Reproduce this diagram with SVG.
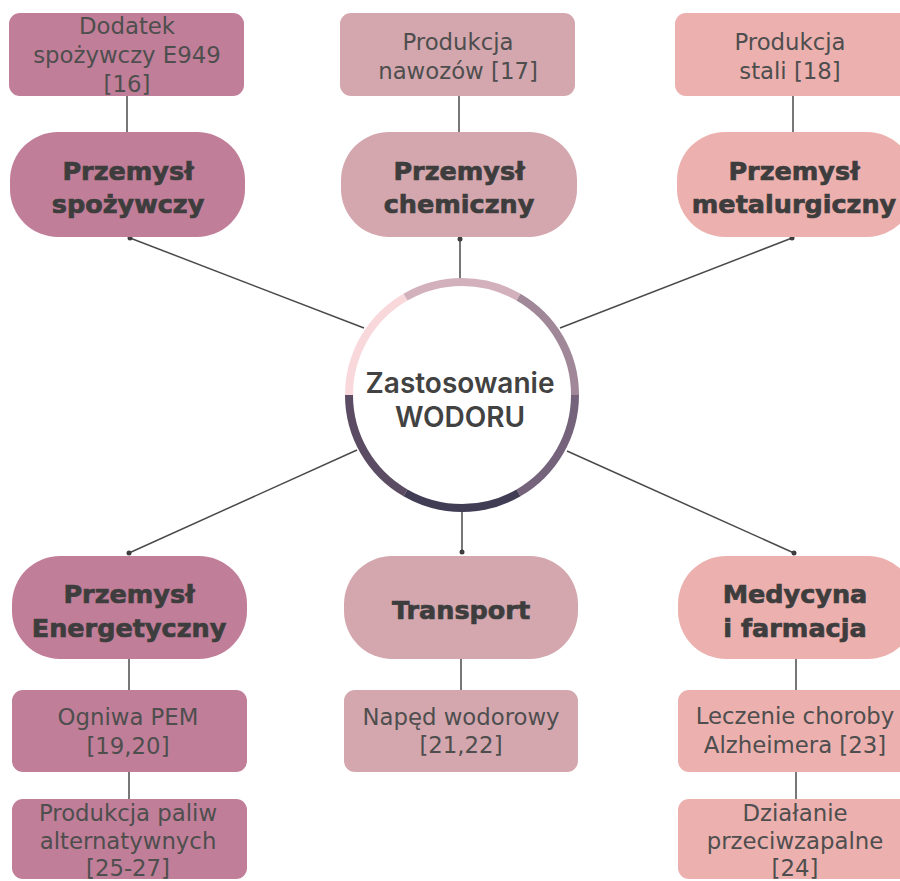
<svg xmlns="http://www.w3.org/2000/svg" width="900" height="881" viewBox="0 0 900 881">
<style>
.c1{fill:#c17e98}
.c2{fill:#d4a7ae}
.c3{fill:#ecb1af}
.t{font-family:"DejaVu Sans","Liberation Sans",sans-serif;font-size:22.8px;fill:#4e4e4e;text-anchor:middle}
.b{font-family:"DejaVu Sans","Liberation Sans",sans-serif;font-weight:bold;font-size:25.5px;fill:#3d3d3d;stroke:#3d3d3d;stroke-width:0.7;text-anchor:middle}
.ct{font-family:Inter,"Liberation Sans",sans-serif;font-weight:600;font-size:28px;fill:#424242;text-anchor:middle}
.ln{stroke:#4a4a4a;stroke-width:1.5;fill:none}
.dot{fill:#3d3d3d}
.ring{fill:none;stroke-width:8}
</style>
<rect width="900" height="881" fill="#ffffff"/>
<g id="connectors">
<line class="ln" x1="127" y1="96" x2="127" y2="132"/>
<line class="ln" x1="459" y1="96" x2="459" y2="132"/>
<line class="ln" x1="793" y1="96" x2="793" y2="132"/>
<line class="ln" x1="129" y1="659" x2="129" y2="690"/>
<line class="ln" x1="129" y1="772" x2="129" y2="799"/>
<line class="ln" x1="461" y1="659" x2="461" y2="690"/>
<line class="ln" x1="796" y1="659" x2="796" y2="690"/>
<line class="ln" x1="796" y1="772" x2="796" y2="799"/>
<line class="ln" x1="130" y1="238" x2="364" y2="328"/>
<line class="ln" x1="460" y1="239" x2="460" y2="279"/>
<line class="ln" x1="792" y1="238" x2="560" y2="328"/>
<line class="ln" x1="129" y1="553" x2="357" y2="450"/>
<line class="ln" x1="462" y1="552" x2="462" y2="512"/>
<line class="ln" x1="794" y1="553" x2="567" y2="451"/>
<circle class="dot" cx="130" cy="238" r="2.5"/>
<circle class="dot" cx="460" cy="239" r="2.5"/>
<circle class="dot" cx="792" cy="238" r="2.5"/>
<circle class="dot" cx="129" cy="553" r="2.5"/>
<circle class="dot" cx="462" cy="552" r="2.5"/>
<circle class="dot" cx="794" cy="553" r="2.5"/>
</g>
<g id="center">
<circle cx="462" cy="395" r="113" fill="#ffffff"/>
<path class="ring" stroke="#74637b" d="M575 395 A113 113 0 0 1 518.5 492.86"/>
<path class="ring" stroke="#403d55" d="M518.5 492.86 A113 113 0 0 1 405.5 492.86"/>
<path class="ring" stroke="#5c4c63" d="M405.5 492.86 A113 113 0 0 1 349 395"/>
<path class="ring" stroke="#f9d8dc" d="M349 395 A113 113 0 0 1 405.5 297.14"/>
<path class="ring" stroke="#d2b1bd" d="M405.5 297.14 A113 113 0 0 1 518.5 297.14"/>
<path class="ring" stroke="#a08898" d="M518.5 297.14 A113 113 0 0 1 575 395"/>
<text class="ct" x="460" y="393">Zastosowanie</text>
<text class="ct" x="460" y="427">WODORU</text>
</g>
<g id="n-e949">
<rect class="c1" x="9" y="13" width="235" height="83" rx="11"/>
<text class="t" x="127" y="34">Dodatek</text>
<text class="t" x="127" y="63">spożywczy E949</text>
<text class="t" x="127" y="92">[16]</text>
</g>
<g id="n-spozywczy">
<rect class="c1" x="10" y="132" width="235" height="105" rx="48"/>
<text class="b" x="128" y="180">Przemysł</text>
<text class="b" x="128" y="213">spożywczy</text>
</g>
<g id="n-nawozy">
<rect class="c2" x="340" y="13" width="235" height="83" rx="11"/>
<text class="t" x="458" y="50">Produkcja</text>
<text class="t" x="458" y="79">nawozów [17]</text>
</g>
<g id="n-chemiczny">
<rect class="c2" x="341" y="132" width="236" height="105" rx="48"/>
<text class="b" x="459" y="180">Przemysł</text>
<text class="b" x="459" y="213">chemiczny</text>
</g>
<g id="n-stal">
<rect class="c3" x="675" y="13" width="240" height="83" rx="11"/>
<text class="t" x="790" y="50">Produkcja</text>
<text class="t" x="790" y="79">stali [18]</text>
</g>
<g id="n-metalurgiczny">
<rect class="c3" x="677" y="132" width="238" height="105" rx="48"/>
<text class="b" x="794" y="180">Przemysł</text>
<text class="b" x="794" y="213">metalurgiczny</text>
</g>
<g id="n-energetyczny">
<rect class="c1" x="12" y="556" width="235" height="103" rx="48"/>
<text class="b" x="129" y="603">Przemysł</text>
<text class="b" x="129" y="637">Energetyczny</text>
</g>
<g id="n-pem">
<rect class="c1" x="12" y="690" width="235" height="82" rx="11"/>
<text class="t" x="128" y="725">Ogniwa PEM</text>
<text class="t" x="128" y="754">[19,20]</text>
</g>
<g id="n-paliwa">
<rect class="c1" x="12" y="799" width="235" height="80" rx="11"/>
<text class="t" x="128" y="821">Produkcja paliw</text>
<text class="t" x="128" y="849">alternatywnych</text>
<text class="t" x="128" y="876">[25-27]</text>
</g>
<g id="n-transport">
<rect class="c2" x="344" y="556" width="234" height="103" rx="48"/>
<text class="b" x="461" y="619">Transport</text>
</g>
<g id="n-naped">
<rect class="c2" x="344" y="690" width="234" height="82" rx="11"/>
<text class="t" x="461" y="725">Napęd wodorowy</text>
<text class="t" x="461" y="753">[21,22]</text>
</g>
<g id="n-medycyna">
<rect class="c3" x="678" y="556" width="238" height="103" rx="48"/>
<text class="b" x="795" y="603">Medycyna</text>
<text class="b" x="795" y="637">i farmacja</text>
</g>
<g id="n-alzheimer">
<rect class="c3" x="678" y="690" width="238" height="82" rx="11"/>
<text class="t" x="795" y="724">Leczenie choroby</text>
<text class="t" x="795" y="753">Alzheimera [23]</text>
</g>
<g id="n-zapalne">
<rect class="c3" x="678" y="799" width="238" height="80" rx="11"/>
<text class="t" x="795" y="821">Działanie</text>
<text class="t" x="795" y="849">przeciwzapalne</text>
<text class="t" x="795" y="876">[24]</text>
</g>
</svg>
